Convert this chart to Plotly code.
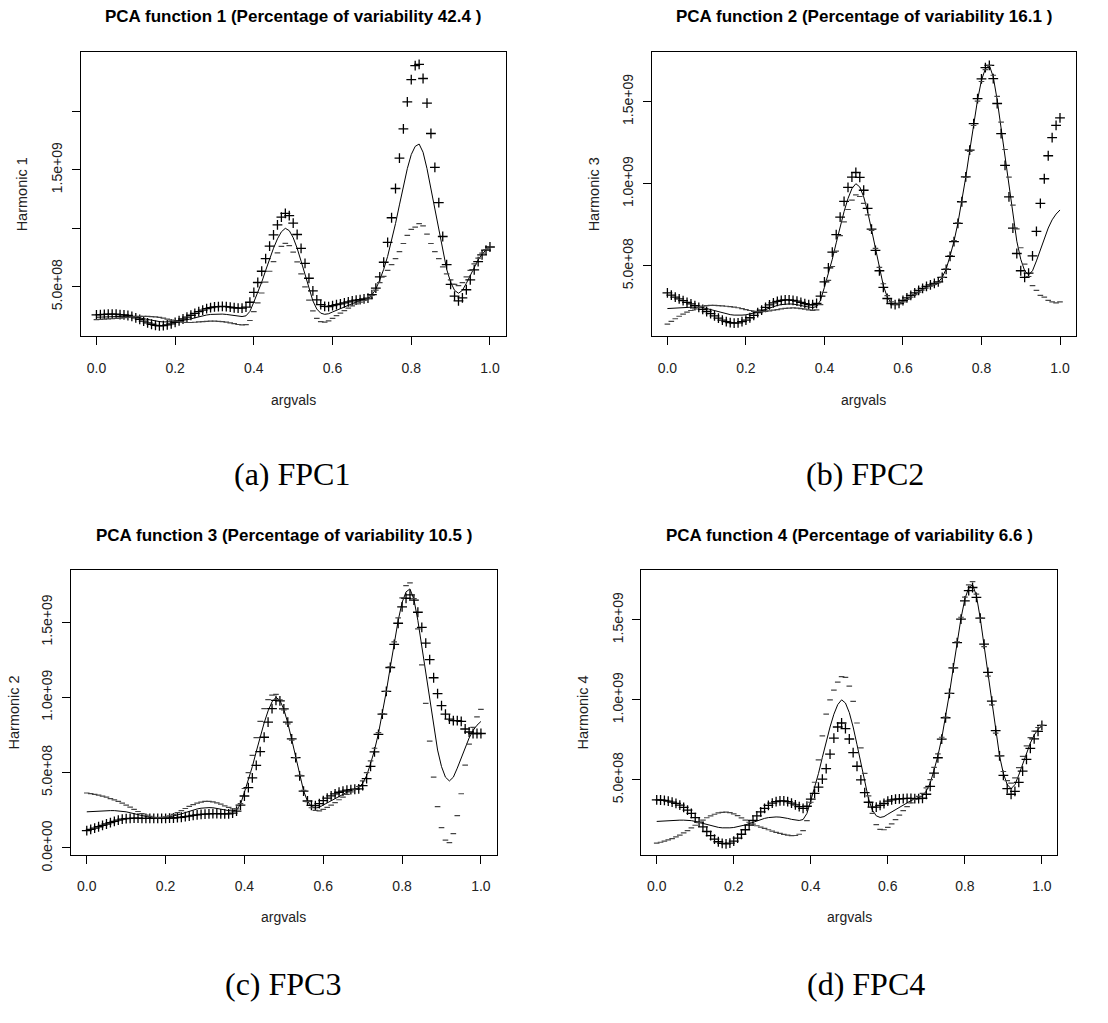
import plotly.graph_objects as go

# ---------------- data (values in units of 1e9) ----------------
argvals = [round(i * 0.01, 2) for i in range(101)]

mean_e9 = [
    0.240, 0.242, 0.244, 0.246, 0.247, 0.248, 0.248, 0.248, 0.247, 0.245,
    0.240, 0.234, 0.227, 0.220, 0.213, 0.207, 0.203, 0.200, 0.199, 0.200,
    0.202, 0.206, 0.211, 0.218, 0.226, 0.235, 0.244, 0.252, 0.259, 0.264,
    0.267, 0.268, 0.267, 0.264, 0.259, 0.253, 0.248, 0.246, 0.252, 0.290,
    0.370, 0.450, 0.540, 0.640, 0.740, 0.830, 0.910, 0.970, 1.000, 0.980,
    0.920, 0.830, 0.720, 0.600, 0.480, 0.380, 0.310, 0.275, 0.265, 0.270,
    0.285, 0.300, 0.315, 0.330, 0.345, 0.358, 0.370, 0.380, 0.390, 0.400,
    0.430, 0.480, 0.560, 0.650, 0.760, 0.890, 1.040, 1.200, 1.360, 1.510,
    1.630, 1.700, 1.720, 1.650, 1.510, 1.340, 1.160, 0.980, 0.800, 0.650,
    0.540, 0.470, 0.445, 0.470, 0.530, 0.600, 0.670, 0.730, 0.780, 0.815,
    0.840,
]

# perturbation (plus = mean + d, minus = mean - d) for each harmonic panel
d_fpc1 = [
    0.020, 0.020, 0.020, 0.020, 0.020, 0.018, 0.015, 0.012, 0.008, 0.002,
    -0.005, -0.013, -0.021, -0.028, -0.033, -0.036, -0.036, -0.032, -0.025, -0.016,
    -0.006, 0.004, 0.014, 0.023, 0.031, 0.038, 0.044, 0.049, 0.054, 0.058,
    0.061, 0.063, 0.065, 0.066, 0.067, 0.068, 0.070, 0.072, 0.075, 0.078,
    0.082, 0.087, 0.093, 0.100, 0.107, 0.114, 0.120, 0.125, 0.128, 0.128,
    0.124, 0.117, 0.109, 0.101, 0.093, 0.086, 0.079, 0.073, 0.067, 0.061,
    0.054, 0.047, 0.040, 0.033, 0.027, 0.021, 0.016, 0.011, 0.007, 0.004,
    0.003, 0.008, 0.025, 0.060, 0.120, 0.200, 0.300, 0.400, 0.490, 0.570,
    0.640, 0.690, 0.680, 0.630, 0.560, 0.470, 0.360, 0.240, 0.130, 0.040,
    -0.020, -0.050, -0.065, -0.065, -0.055, -0.040, -0.026, -0.015, -0.007, -0.002,
    0.000,
]
d_fpc2 = [
    0.095, 0.080, 0.066, 0.053, 0.041, 0.030, 0.020, 0.010, 0.000, -0.010,
    -0.018, -0.025, -0.032, -0.038, -0.043, -0.047, -0.049, -0.049, -0.046, -0.040,
    -0.032, -0.022, -0.012, -0.003, 0.005, 0.012, 0.018, 0.022, 0.025, 0.026,
    0.026, 0.025, 0.023, 0.021, 0.019, 0.017, 0.016, 0.017, 0.020, 0.026,
    0.032, 0.038, 0.044, 0.050, 0.056, 0.062, 0.067, 0.070, 0.068, 0.058,
    0.040, 0.020, 0.004, -0.006, -0.010, -0.011, -0.009, -0.005, -0.001, 0.002,
    0.004, 0.005, 0.005, 0.005, 0.005, 0.005, 0.005, 0.004, 0.003, 0.002,
    0.000, -0.002, -0.003, -0.003, -0.002, 0.000, 0.002, 0.004, 0.006, 0.008,
    0.008, 0.006, 0.000, -0.010, -0.022, -0.035, -0.048, -0.060, -0.070, -0.075,
    -0.070, -0.040, 0.010, 0.090, 0.180, 0.280, 0.360, 0.440, 0.500, 0.540,
    0.560,
]
d_fpc3 = [
    -0.125, -0.119, -0.112, -0.105, -0.097, -0.089, -0.080, -0.071, -0.062, -0.053,
    -0.045, -0.037, -0.029, -0.022, -0.016, -0.011, -0.007, -0.004, -0.003, -0.003,
    -0.005, -0.008, -0.012, -0.017, -0.022, -0.027, -0.032, -0.036, -0.039, -0.041,
    -0.042, -0.041, -0.039, -0.036, -0.032, -0.027, -0.021, -0.014, -0.008, -0.005,
    -0.025, -0.050, -0.075, -0.092, -0.100, -0.095, -0.075, -0.045, -0.020, -0.004,
    0.004, 0.006, 0.004, 0.000, -0.002, -0.002, 0.002, 0.008, 0.016, 0.024,
    0.029, 0.031, 0.031, 0.029, 0.025, 0.020, 0.014, 0.007, 0.000, -0.008,
    -0.016, -0.020, -0.018, -0.012, -0.006, -0.002, 0.000, -0.002, -0.008, -0.018,
    -0.030, -0.042, -0.040, -0.005, 0.055, 0.125, 0.200, 0.270, 0.330, 0.375,
    0.405, 0.418, 0.410, 0.375, 0.315, 0.240, 0.120, 0.040, -0.020, -0.055,
    -0.080,
]
d_fpc4 = [
    0.135, 0.132, 0.127, 0.121, 0.114, 0.105, 0.094, 0.080, 0.064, 0.045,
    0.024, 0.002, -0.021, -0.043, -0.062, -0.078, -0.090, -0.097, -0.099, -0.095,
    -0.085, -0.070, -0.051, -0.030, -0.009, 0.012, 0.031, 0.048, 0.063, 0.076,
    0.087, 0.096, 0.102, 0.105, 0.105, 0.102, 0.096, 0.086, 0.070, 0.045,
    0.010, -0.035, -0.085, -0.135, -0.170, -0.170, -0.150, -0.140, -0.145, -0.160,
    -0.165, -0.160, -0.135, -0.100, -0.060, -0.020, 0.020, 0.055, 0.075, 0.082,
    0.082, 0.075, 0.064, 0.051, 0.038, 0.026, 0.014, 0.003, -0.007, -0.015,
    -0.020, -0.021, -0.018, -0.012, -0.006, -0.002, 0.000, 0.000, -0.002, -0.006,
    -0.012, -0.018, -0.018, -0.010, 0.000, 0.008, 0.012, 0.012, 0.008, 0.000,
    -0.012, -0.025, -0.035, -0.042, -0.046, -0.046, -0.042, -0.034, -0.024, -0.012,
    0.000,
]

titles = [
    "PCA function 1 (Percentage of variability 42.4 )",
    "PCA function 2 (Percentage of variability 16.1 )",
    "PCA function 3 (Percentage of variability 10.5 )",
    "PCA function 4 (Percentage of variability 6.6 )",
]
ylabels = ["Harmonic 1", "Harmonic 3", "Harmonic 2", "Harmonic 4"]
captions = ["(a) FPC1", "(b) FPC2", "(c) FPC3", "(d) FPC4"]
xtick_vals = [0.0, 0.2, 0.4, 0.6, 0.8, 1.0]
xtick_text = ["0.0", "0.2", "0.4", "0.6", "0.8", "1.0"]
ytick_vals = [
    [0.5e9, 1.0e9, 1.5e9, 2.0e9],
    [0.5e9, 1.0e9, 1.5e9],
    [0.0, 0.5e9, 1.0e9, 1.5e9],
    [0.5e9, 1.0e9, 1.5e9],
]
ytick_text = [
    ["5.0e+08", "", "1.5e+09", ""],
    ["5.0e+08", "1.0e+09", "1.5e+09"],
    ["0.0e+00", "5.0e+08", "1.0e+09", "1.5e+09"],
    ["5.0e+08", "1.0e+09", "1.5e+09"],
]
deltas = [d_fpc1, d_fpc2, d_fpc3, d_fpc4]

# ---------------- layout geometry (pixels) ----------------
W, H = 1108, 1023
# (left, right, top, bottom) of each plot box
boxes = [
    (80.7, 505.7, 53.3, 342.0),
    (651.7, 1075.7, 53.3, 342.0),
    (71.0, 496.7, 580.0, 869.0),
    (641.3, 1057.3, 580.0, 869.0),
]
yranges = [
    (0.077e9, 2.503e9),
    (0.071e9, 1.799e9),
    (-0.0437e9, 1.843e9),
    (0.033e9, 1.809e9),
]
title_y = [17, 17, 545, 545]
xlab_y = [407, 407, 933, 933]
ylab_x = [22, 594, 14, 583]
caption_pos = [(292, 482), (865, 482), (283, 1001), (866, 1001)]

FONT = "Liberation Sans, Arial, sans-serif"

fig = go.Figure()
layout = dict(
    width=W, height=H, margin=dict(l=0, r=0, t=0, b=0),
    paper_bgcolor="white", plot_bgcolor="white", showlegend=False,
    font=dict(family=FONT, color="black"),
)
annotations = []


def px(x):
    return x / W


def py(y):
    return 1 - y / H


for k in range(4):
    sfx = "" if k == 0 else str(k + 1)
    xa, ya = "x" + sfx, "y" + sfx
    l, r, t, b = boxes[k]
    d = deltas[k]
    mean_y = [m * 1e9 for m in mean_e9]
    plus_y = [(m + dd) * 1e9 for m, dd in zip(mean_e9, d)]
    minus_y = [(m - dd) * 1e9 for m, dd in zip(mean_e9, d)]

    fig.add_trace(go.Scatter(x=argvals, y=mean_y, mode="lines",
                             line=dict(color="black", width=1),
                             xaxis=xa, yaxis=ya))
    fig.add_trace(go.Scatter(x=argvals, y=plus_y, mode="markers",
                             marker=dict(symbol="cross-thin", size=7,
                                         line=dict(color="black", width=1.3)),
                             xaxis=xa, yaxis=ya))
    fig.add_trace(go.Scatter(x=argvals, y=minus_y, mode="markers",
                             marker=dict(symbol="line-ew", size=4,
                                         line=dict(color="#444444", width=1.2)),
                             xaxis=xa, yaxis=ya))

    axis_common = dict(showline=True, mirror=True, linecolor="black",
                       linewidth=1, ticks="outside", ticklen=8,
                       tickcolor="black", tickwidth=1, showgrid=False,
                       zeroline=False, fixedrange=True,
                       tickfont=dict(family=FONT, size=14, color="#222222"))
    layout["xaxis" + sfx] = dict(
        axis_common, domain=[px(l), px(r)], range=[-0.04, 1.04],
        tickmode="array", tickvals=xtick_vals, ticktext=xtick_text,
        anchor=ya, ticklabelstandoff=11)
    layout["yaxis" + sfx] = dict(
        axis_common, domain=[py(b), py(t)], range=list(yranges[k]),
        tickmode="array", tickvals=ytick_vals[k], ticktext=ytick_text[k],
        anchor=xa, tickangle=-90, ticklabelstandoff=4)

    cx = (l + r) / 2
    annotations.append(dict(text="<b>" + titles[k] + "</b>", x=px(cx), y=py(title_y[k]),
                            xref="paper", yref="paper", showarrow=False,
                            xanchor="center", yanchor="middle",
                            font=dict(family=FONT, size=17, color="black")))
    annotations.append(dict(text="argvals", x=px(cx), y=py(xlab_y[k]),
                            xref="paper", yref="paper", showarrow=False,
                            xanchor="center", yanchor="middle",
                            font=dict(family=FONT, size=14, color="#222222")))
    annotations.append(dict(text=ylabels[k], x=px(ylab_x[k]), y=py((t + b) / 2),
                            xref="paper", yref="paper", showarrow=False,
                            xanchor="center", yanchor="middle", textangle=-90,
                            font=dict(family=FONT, size=14.5, color="#222222")))
    cxp, cyp = caption_pos[k]
    annotations.append(dict(text=captions[k], x=px(cxp), y=py(cyp),
                            xref="paper", yref="paper", showarrow=False,
                            xanchor="center", yanchor="middle",
                            font=dict(family="Liberation Serif, DejaVu Serif, serif",
                                      size=32, color="black")))

layout["annotations"] = annotations
fig.update_layout(**layout)
fig.write_html("out.html")
